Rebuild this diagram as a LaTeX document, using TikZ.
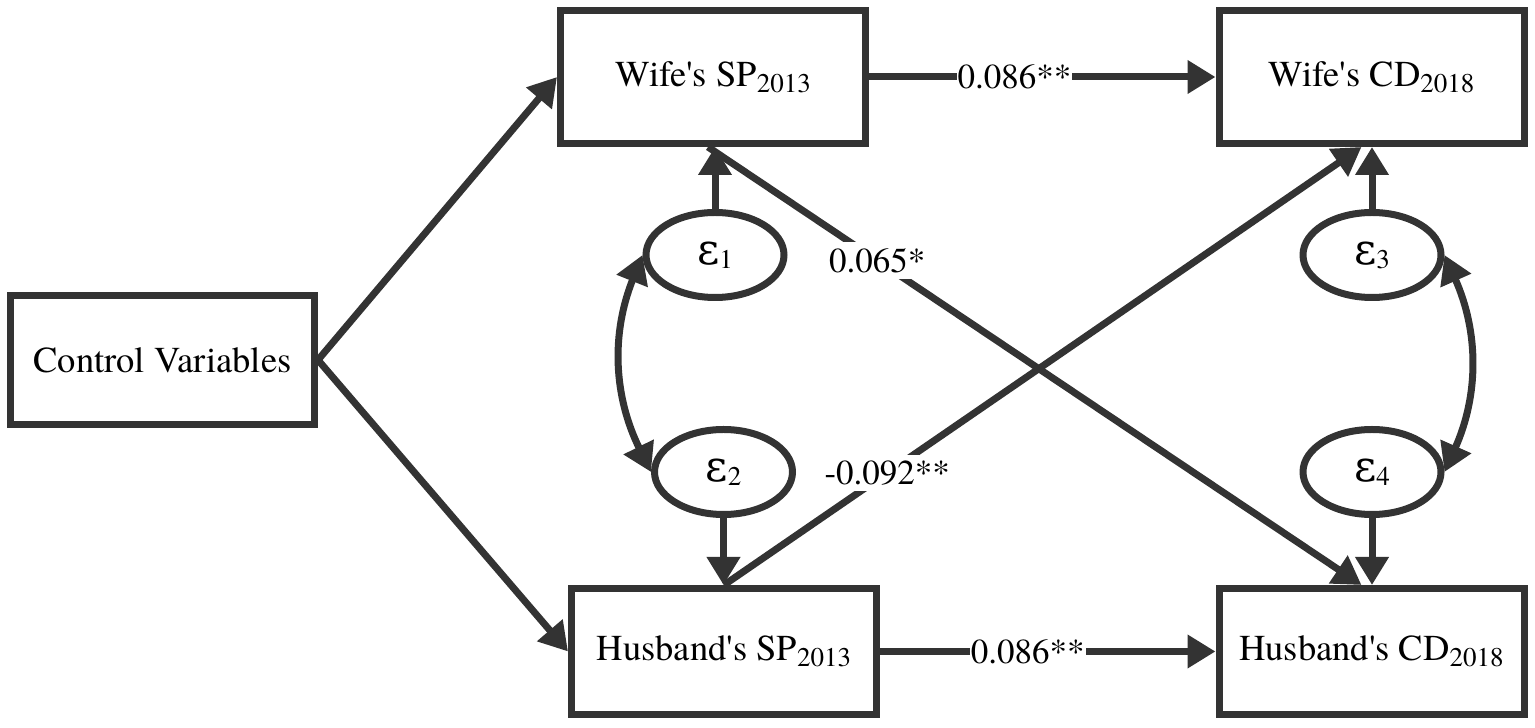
\documentclass[tikz,border=0pt]{standalone}
\usepackage{fontspec}
\setmainfont{texgyretermes}[Extension=.otf, UprightFont=*-regular, BoldFont=*-bold, ItalicFont=*-italic, BoldItalicFont=*-bolditalic, Ligatures=TeXOff]
\newfontfamily\grk{DejaVu Serif}
\usetikzlibrary{arrows.meta,shapes.geometric}
\definecolor{ln}{HTML}{333333}
\newcommand{\subtx}[1]{\raisebox{-6pt}{\fontsize{27}{27}\selectfont #1}}
\newcommand{\epsl}[1]{{\grk\fontsize{43}{43}\selectfont ε}\raisebox{-4pt}{\fontsize{27}{27}\selectfont #1}}
\begin{document}
\begin{tikzpicture}[x=1pt,y=1pt,
  box/.style={draw=ln, line width=7pt, rectangle, minimum width=305pt, minimum height=133pt, inner sep=0pt, font=\rmfamily\fontsize{36.5}{40}\selectfont},
  err/.style={draw=ln, line width=7pt, ellipse, minimum width=138pt, minimum height=85pt, inner sep=0pt, font=\rmfamily},
  arr/.style={draw=ln, line width=7pt, -{Triangle[length=28pt,width=32pt]}},
  darr/.style={draw=ln, line width=7pt, {Triangle[length=28pt,width=32pt]}-{Triangle[length=28pt,width=32pt]}},
  lab/.style={fill=white, inner xsep=1pt, inner ysep=6pt, font=\rmfamily\fontsize{35}{36}\selectfont}
]
\useasboundingbox (0,0) rectangle (1535,728);
\node[box, minimum width=304pt, minimum height=129pt] (cv) at (162.5,368) {Control Variables};
\node[box] (wsp) at (713,651) {Wife's SP\subtx{2013}};
\node[box] (wcd) at (1371.5,651) {Wife's CD\subtx{2018}};
\node[box, minimum height=126pt] (hsp) at (724,76.5) {Husband's SP\subtx{2013}};
\node[box, minimum height=126pt] (hcd) at (1371.5,76.5) {Husband's CD\subtx{2018}};
\node[err] (e1) at (715,473) {\epsl{1}};
\node[err] (e2) at (723.5,256) {\epsl{2}};
\node[err] (e3) at (1372,473) {\epsl{3}};
\node[err] (e4) at (1372,256) {\epsl{4}};
% control arrows
\draw[arr] (cv.east) -- (wsp.west);
\draw[arr] (cv.east) -- (hsp.west);
% error arrows
\draw[arr] (e1.north) -- (e1.north |- wsp.south);
\draw[arr] (e2.south) -- (e2.south |- hsp.north);
\draw[arr] (e3.north) -- (e3.north |- wcd.south);
\draw[arr] (e4.south) -- (e4.south |- hcd.north);
% covariances
\draw[darr] (e1.west) to[bend right=24] (e2.west);
\draw[darr] (e3.east) to[bend left=24] (e4.east);
% horizontal paths
\draw[arr] (wsp.east) -- (wcd.west) node[lab, pos=0.42] {0.086**};
\draw[arr] (hsp.east) -- (hcd.west) node[lab, pos=0.44] {0.086**};
% cross paths
\draw[arr] ([xshift=-5pt]wsp.south) -- ([xshift=-10pt]hcd.north) node[lab, pos=0.259] {0.065*};
\draw[arr] (hsp.north) -- ([xshift=-10pt]wcd.south) node[lab, pos=0.256] {-0.092**};
\end{tikzpicture}
\end{document}
